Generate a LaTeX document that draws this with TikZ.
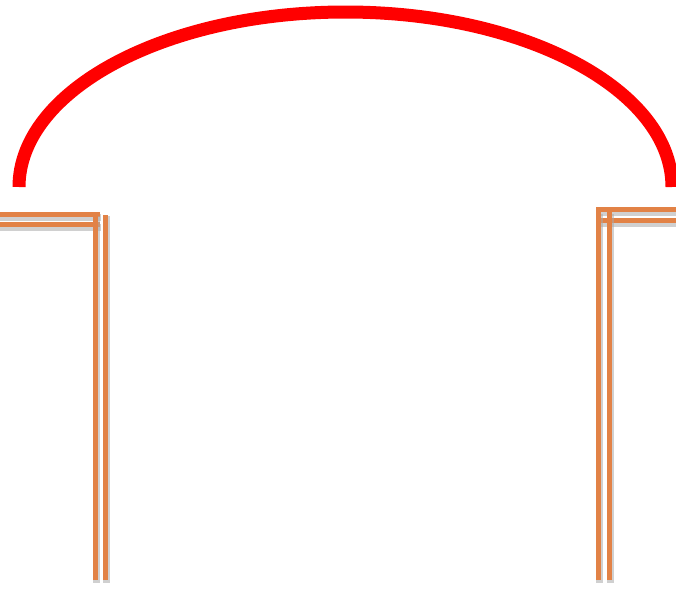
\documentclass[tikz,border=0pt]{standalone}
\usetikzlibrary{positioning}
\definecolor{wallorange}{RGB}{226,130,70}
\definecolor{shadowgray}{RGB}{170,170,170}
\begin{document}
\begin{tikzpicture}[x=1pt, y=-1pt,
    wall/.style={draw=wallorange, line width=5pt},
    shade/.style={draw=shadowgray, line width=7pt, opacity=0.55},
    arch/.style={draw=red, line width=13pt}]
      \useasboundingbox (0,0) rectangle (676,589);
      % left post
      \foreach \y in {214,224} {
        \draw [shade] (0,\y+3) -- (101,\y+3);
        \draw [wall] (0,\y) -- (100,\y);
      }
      \foreach \x in {95,105} {
        \draw [shade] (\x+1,216) -- (\x+1,583);
        \draw [wall] (\x,215) -- (\x,580);
      }
      % right post
      \foreach \y in {209,220} {
        \draw [shade] (596,\y+3) -- (676,\y+3);
        \draw [wall] (596,\y) -- (676,\y);
      }
      \foreach \x in {598,609} {
        \draw [shade] (\x+1,214) -- (\x+1,583);
        \draw [wall] (\x,212) -- (\x,580);
      }
      % arch
      \coordinate (archL) at (19,187);
      \coordinate (archR) at (672,187);
      \draw [arch] (archL) arc[start angle=180, end angle=360, x radius=326.5, y radius=175];
    \end{tikzpicture}
\end{document}
